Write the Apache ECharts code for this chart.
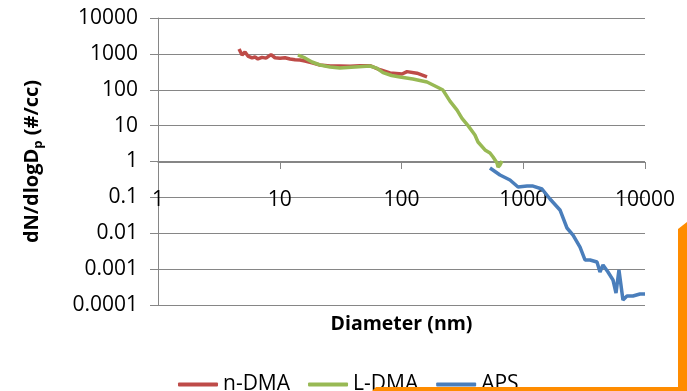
<!DOCTYPE html>
<html>
<head>
<meta charset="utf-8">
<script src="https://cdn.jsdelivr.net/npm/echarts@6/dist/echarts.min.js"></script>
<style>
  html, body { margin: 0; padding: 0; background: #fff; }
  #chart { width: 687px; height: 391px; }
</style>
</head>
<body>
<div id="chart"></div>
<script>
// diameters (nm) and dN/dlogDp (#/cc)
const nDmaDiam = [4.63, 4.75, 4.9, 5.18, 5.48, 5.92, 6.26, 6.62, 7.15, 7.71, 8.48, 9.14, 10.05, 11.04, 12.14, 13.35, 14.67, 16.12, 18.4, 21.4, 25.9, 31.2, 37.8, 45.6, 55.1, 66.6, 80.5, 101, 111, 134, 162];
const nDmaConc = [1370, 1550, 930, 1130, 870, 770, 820, 720, 800, 760, 950, 780, 760, 780, 720, 690, 675, 630, 560, 490, 460, 460, 450, 470, 470, 360, 295, 275, 320, 290, 230];

const lDmaDiam = [14.1, 16.1, 18.4, 21.4, 25.9, 31.2, 41.5, 55.1, 62.5, 70.5, 83, 97.2, 124, 162, 196, 219, 250, 286, 314, 352, 401, 425, 485, 533, 553, 565, 609, 621, 644, 669];
const lDmaConc = [930, 770, 594, 490, 431, 403, 431, 459, 400, 300, 250, 226, 199, 165, 119, 98, 48, 27, 16, 10, 5.5, 3.5, 2.1, 1.73, 1.84, 1.33, 0.91, 0.70, 0.80, 1.03];

const apsDiam = [533, 644, 778, 906, 1074, 1203, 1426, 1659, 2003, 2287, 2564, 2926, 3215, 3535, 4034, 4267, 4518, 4965, 5460, 5779, 6110, 6591, 7111, 7961, 9090, 10000];
const apsConc = [0.659, 0.42, 0.305, 0.195, 0.207, 0.207, 0.171, 0.09, 0.0445, 0.014, 0.0089, 0.0041, 0.0018, 0.0018, 0.00158, 0.00083, 0.0013, 0.00083, 0.000497, 0.000216, 0.000946, 0.000138, 0.000178, 0.000178, 0.000203, 0.000203];

const seriesNames = ['n-DMA', 'L-DMA', 'APS'];
const seriesColors = ['#BE4B48', '#98B954', '#4A7EBB'];

const zip = (xs, ys) => xs.map((x, i) => [x, ys[i]]);
const seriesData = [zip(nDmaDiam, nDmaConc), zip(lDmaDiam, lDmaConc), zip(apsDiam, apsConc)];

const fontFamily = '"Open Sans", "Liberation Sans", sans-serif';
const gridColor = '#868686';
const fmt = (v) => String(Number(Number(v).toPrecision(1)));

const chart = echarts.init(document.getElementById('chart'));

chart.setOption({
  animation: false,
  textStyle: { fontFamily },
  grid: {
    left: 158,
    right: 42,
    top: 18,
    bottom: 86,
  },
  xAxis: {
    type: 'log',
    logBase: 10,
    min: 1,
    max: 10000,
    splitNumber: 4,
    offset: -143,
    name: 'Diameter (nm)',
    nameLocation: 'middle',
    nameGap: 152,
    nameTextStyle: {
      fontFamily,
      fontSize: 19.5,
      fontWeight: 'bold',
      color: '#000',
    },
    axisLine: {
      lineStyle: { color: gridColor, width: 1 },
    },
    axisTick: {
      length: 7,
      lineStyle: { color: gridColor },
    },
    axisLabel: {
      margin: 28,
      fontSize: 21,
      color: '#000',
      formatter: fmt,
    },
    splitLine: { show: false },
  },
  yAxis: {
    type: 'log',
    logBase: 10,
    min: 0.0001,
    max: 10000,
    splitNumber: 8,
    name: 'dN/dlogD{sub|p} (#/cc)',
    nameLocation: 'middle',
    nameRotate: 90,
    nameGap: 113,
    nameTextStyle: {
      fontFamily,
      fontSize: 20,
      fontWeight: 'bold',
      color: '#000',
      rich: {
        sub: {
          fontFamily,
          fontSize: 13,
          fontWeight: 'bold',
          color: '#000',
          verticalAlign: 'bottom',
          lineHeight: 26,
        },
      },
    },
    axisLine: {
      show: true,
      lineStyle: { color: gridColor, width: 1 },
    },
    axisTick: {
      show: true,
      length: 8,
      lineStyle: { color: gridColor },
    },
    axisLabel: {
      margin: 20,
      fontSize: 21,
      color: '#000',
      formatter: fmt,
    },
    splitLine: {
      lineStyle: { color: gridColor, width: 1 },
    },
  },
  legend: {
    left: 173,
    top: 369,
    icon: 'roundRect',
    itemWidth: 40,
    itemHeight: 4,
    itemGap: 18,
    textStyle: {
      fontFamily,
      fontSize: 21,
      color: '#000',
    },
    data: seriesNames,
  },
  series: seriesNames.map((name, i) => ({
    name,
    type: 'line',
    data: seriesData[i],
    symbol: 'none',
    smooth: false,
    clip: true,
    itemStyle: { color: seriesColors[i] },
    lineStyle: { width: 3.5, color: seriesColors[i] },
  })),
  graphic: [
    {
      type: 'polygon',
      shape: { points: [[678, 229], [687, 222], [687, 391], [678, 391]] },
      style: { fill: '#FF8C00' },
      z: 100,
    },
    {
      type: 'polygon',
      shape: { points: [[372, 391], [376, 387], [687, 387], [687, 391]] },
      style: { fill: '#FF8C00' },
      z: 100,
    },
  ],
});
</script>
</body>
</html>
